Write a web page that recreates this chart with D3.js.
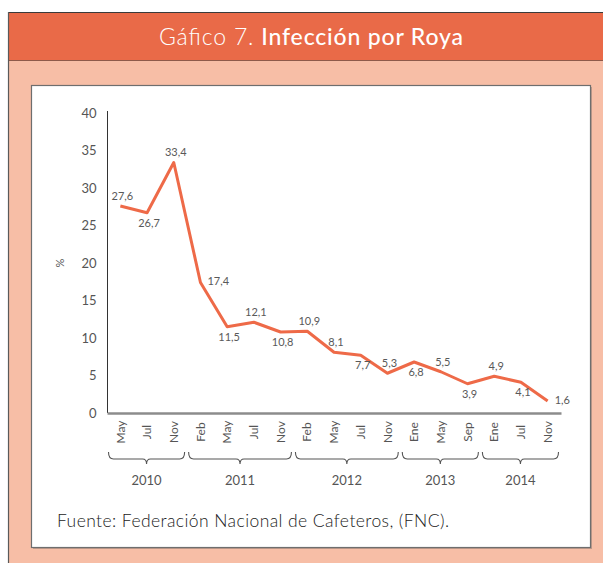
<!DOCTYPE html>
<html>
<head>
<meta charset="utf-8">
<script src="https://cdn.jsdelivr.net/npm/d3@7"></script>
<style>
  html, body { margin: 0; padding: 0; background: #ffffff; }
  svg { display: block; }
</style>
</head>
<body>
<svg id="chart" width="603" height="563"></svg>
<script>
// ---- data ----
const months = ["May","Jul","Nov","Feb","May","Jul","Nov","Feb","May","Jul","Nov","Ene","May","Sep","Ene","Jul","Nov"];
const years = ["2010","2010","2010","2011","2011","2011","2011","2012","2012","2012","2012","2013","2013","2013","2014","2014","2014"];
const values = [27.6, 26.7, 33.4, 17.4, 11.5, 12.1, 10.8, 10.9, 8.1, 7.7, 5.3, 6.8, 5.5, 3.9, 4.9, 4.1, 1.6];
const labelSide = ["above","below","above","right","below","above","below","above","above","below","above","below","above","below","above","below","right"];
const yTicks = [0, 5, 10, 15, 20, 25, 30, 35, 40];
const titleLight = "Gáfico 7.";
const titleBold = "Infección por Roya";
const sourceText = "Fuente: Federación Nacional de Cafeteros, (FNC).";
const yLabel = "%";

const FONT = "Lato, 'Noto Sans', sans-serif";
const svg = d3.select("#chart");

// ---- panel ----
svg.append("rect").attr("x", 8).attr("y", 12).attr("width", 600).attr("height", 560).attr("fill", "#F7BEA6");
svg.append("rect").attr("x", 8).attr("y", 12).attr("width", 600).attr("height", 48).attr("fill", "#E96A48");
svg.append("line").attr("x1", 8).attr("x2", 603).attr("y1", 60.5).attr("y2", 60.5).attr("stroke", "#8E5A4A").attr("stroke-width", 1.2);
svg.append("line").attr("x1", 8).attr("x2", 603).attr("y1", 12.5).attr("y2", 12.5).attr("stroke", "#3a3a3a").attr("stroke-width", 1);
svg.append("line").attr("x1", 8.5).attr("x2", 8.5).attr("y1", 12).attr("y2", 563).attr("stroke", "#5a5a5a").attr("stroke-width", 1.2);

// title
const title = svg.append("text").attr("x", 311).attr("y", 45).attr("text-anchor", "middle")
  .attr("font-family", FONT).attr("font-size", 23).attr("fill", "#ffffff")
  .attr("textLength", 304).attr("lengthAdjust", "spacing");
title.append("tspan").attr("font-weight", 300).text(titleLight + " ");
title.append("tspan").attr("font-weight", 500).text(titleBold);

// white box with shadow
svg.append("rect").attr("x", 33).attr("y", 87).attr("width", 559).attr("height", 462).attr("fill", "#9a8078").attr("opacity", 0.6);
svg.append("rect").attr("x", 31.5).attr("y", 85.5).attr("width", 559).attr("height", 462)
  .attr("fill", "#ffffff").attr("stroke", "#6e6e6e").attr("stroke-width", 1.2);

// ---- scales ----
const x = d3.scaleBand().domain(d3.range(values.length)).range([107, 561]).padding(0);
const y = d3.scaleLinear().domain([0, 40]).range([413, 113]);
const cx = i => x(i) + x.bandwidth() / 2;

// y axis
const yAxis = d3.axisLeft(y).tickValues(yTicks).tickSize(0).tickPadding(11).tickFormat(d3.format("d"));
const gy = svg.append("g").attr("transform", "translate(107.5,0)").call(yAxis);
gy.select(".domain").attr("stroke", "#333").attr("stroke-width", 1).attr("d", "M0," + (y(40) - 2) + "V" + y(0));
gy.selectAll("text").attr("font-family", FONT).attr("font-size", 13).attr("fill", "#555");

// y label
svg.append("text").attr("transform", "translate(64,263) rotate(-90)").attr("text-anchor", "middle")
  .attr("font-family", FONT).attr("font-size", 11).attr("fill", "#555").text(yLabel);

// x axis
const xAxis = d3.axisBottom(x).tickSize(0).tickFormat(i => months[i]);
const gx = svg.append("g").attr("transform", "translate(0," + y(0) + ")").call(xAxis);
gx.select(".domain").attr("stroke", "#8c8c8c").attr("stroke-width", 2.5);
gx.selectAll(".tick text")
  .attr("transform", "translate(0,19) rotate(-90)")
  .attr("x", 0).attr("y", 0).attr("dy", "0.35em")
  .attr("text-anchor", "middle")
  .attr("font-family", FONT).attr("font-size", 12).attr("fill", "#555");

// ---- year braces ----
const groups = d3.groups(d3.range(values.length), i => years[i]);
const braceG = svg.append("g");
groups.forEach(([yr, idx]) => {
  const x0 = x(idx[0]) + 1.5;
  const x1 = x(idx[idx.length - 1]) + x.bandwidth() - 2.5;
  const xm = (x0 + x1) / 2;
  const top = 452, mid = 459, tip = 464, r = 5;
  const p = `M${x0},${top} Q${x0},${mid} ${x0 + r},${mid} L${xm - 4},${mid} Q${xm},${mid} ${xm},${tip} Q${xm},${mid} ${xm + 4},${mid} L${x1 - r},${mid} Q${x1},${mid} ${x1},${top}`;
  braceG.append("path").attr("d", p).attr("fill", "none").attr("stroke", "#555").attr("stroke-width", 1.1);
  braceG.append("text").attr("x", xm).attr("y", 485).attr("text-anchor", "middle")
    .attr("font-family", FONT).attr("font-size", 13).attr("fill", "#555").text(yr);
});

// ---- line ----
const line = d3.line().x((d, i) => cx(i)).y(d => y(d));
svg.append("path").datum(values).attr("d", line).attr("fill", "none")
  .attr("stroke", "#EE6A48").attr("stroke-width", 3).attr("stroke-linejoin", "round");

// ---- data labels ----
const fmt = v => d3.format(".1f")(v).replace(".", ",");
svg.append("g").selectAll("text").data(values).join("text")
  .attr("x", (d, i) => labelSide[i] === "right" ? cx(i) + 7 : cx(i) + 2)
  .attr("y", (d, i) => labelSide[i] === "above" ? y(d) - 10 : labelSide[i] === "below" ? y(d) + 10 : y(d) - 1)
  .attr("dy", "0.35em")
  .attr("text-anchor", (d, i) => labelSide[i] === "right" ? "start" : "middle")
  .attr("font-family", FONT).attr("font-size", 11).attr("fill", "#595959")
  .text(fmt);

// ---- source ----
svg.append("text").attr("x", 57).attr("y", 527).attr("font-family", FONT).attr("font-weight", 300)
  .attr("font-size", 17.5).attr("fill", "#222")
  .attr("textLength", 392).attr("lengthAdjust", "spacing").text(sourceText);
</script>
</body>
</html>
